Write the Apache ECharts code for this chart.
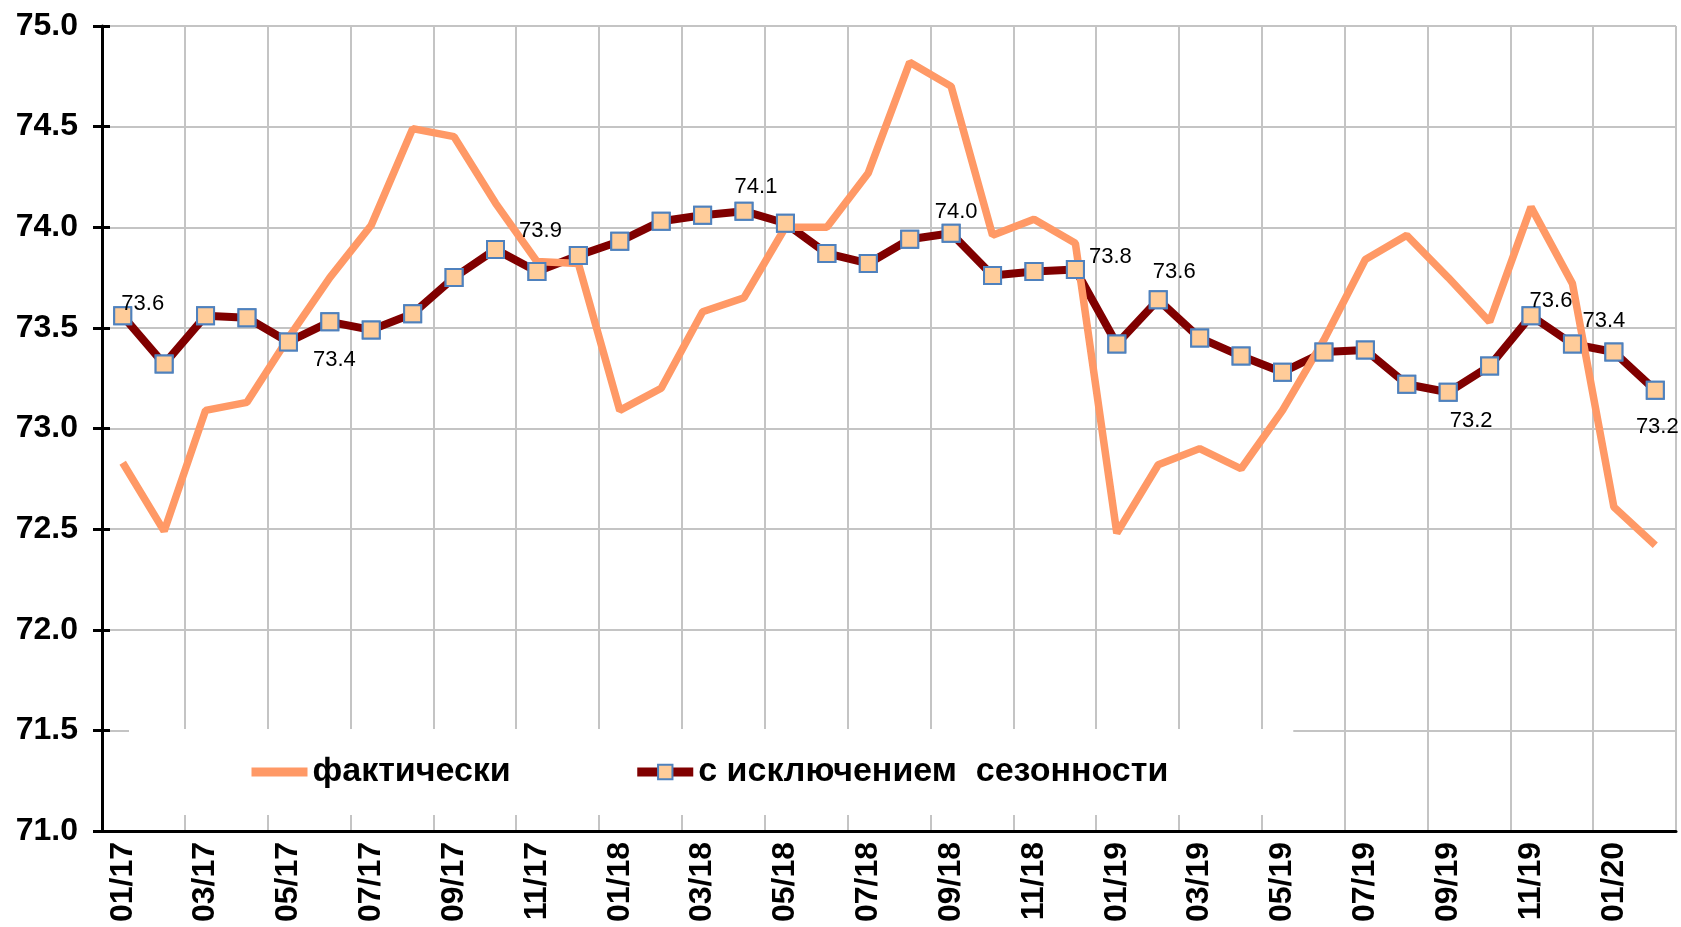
<!DOCTYPE html>
<html>
<head>
<meta charset="utf-8">
<script src="https://cdn.jsdelivr.net/npm/echarts@6/dist/echarts.min.js"></script>
<style>
  html, body { margin: 0; padding: 0; background: #ffffff; }
  #chart { width: 1681px; height: 927px; }
</style>
</head>
<body>
<div id="chart"></div>
<script>
const months = [
    "01/17", "02/17", "03/17", "04/17", "05/17", "06/17", "07/17", "08/17", "09/17", "10/17", "11/17", "12/17",
    "01/18", "02/18", "03/18", "04/18", "05/18", "06/18", "07/18", "08/18", "09/18", "10/18", "11/18", "12/18",
    "01/19", "02/19", "03/19", "04/19", "05/19", "06/19", "07/19", "08/19", "09/19", "10/19", "11/19", "12/19",
    "01/20", "02/20"
];
const fakticheski = [
    72.83, 72.49, 73.09, 73.13, 73.45, 73.75, 74.01, 74.49, 74.45, 74.12, 73.83, 73.82,
    73.09, 73.20, 73.58, 73.65, 74.00, 74.00, 74.27, 74.82, 74.70, 73.96, 74.04, 73.92,
    72.48, 72.82, 72.90, 72.80, 73.09, 73.44, 73.84, 73.96, 73.75, 73.53, 74.10, 73.72,
    72.61, 72.42
];
const bezSezonnosti = [
    73.56, 73.32, 73.56, 73.55, 73.43, 73.53, 73.49, 73.57, 73.75, 73.89, 73.78, 73.86,
    73.93, 74.03, 74.06, 74.08, 74.02, 73.87, 73.82, 73.94, 73.97, 73.76, 73.78, 73.79,
    73.42, 73.64, 73.45, 73.36, 73.28, 73.38, 73.39, 73.22, 73.18, 73.31, 73.56, 73.42,
    73.38, 73.19
];
const yTicks = { min: 71, max: 75, step: 0.5 };

const nameFakt = "фактически";
const nameSez = "с исключением  сезонности";

// which points carry a value label, and where the label sits (px from the marker)
const labelOffsets = {
    0: [20, -12], 4: [46, 18], 9: [45, -18], 15: [12, -24], 20: [5, -21], 23: [35, -13],
    25: [16, -28], 32: [23, 29], 34: [20, -15], 36: [-10, -31], 37: [2, 37]
};

const chart = echarts.init(document.getElementById("chart"), null, { renderer: "canvas" });

const markerData = bezSezonnosti.map((v, i) => {
    const off = labelOffsets[i];
    if (!off) return v;
    return {
        value: v,
        label: { show: true, position: "inside", offset: off }
    };
});

const markerStyle = { color: "#FFCC99", borderColor: "#4F81BD", borderWidth: 2 };
const fontFamily = "Liberation Sans, Arial, sans-serif";

chart.setOption({
    backgroundColor: "#ffffff",
    animation: false,
    grid: { left: 102, right: 5, top: 26, bottom: 96, containLabel: false },
    legend: {
        data: [
            { name: nameFakt, itemStyle: { opacity: 0 } },
            { name: nameSez }
        ],
        left: 129,
        top: 729,
        padding: [26, 125, 26, 118],
        backgroundColor: "#ffffff",
        itemGap: 122,
        itemWidth: 56,
        itemHeight: 18,
        textStyle: { fontSize: 34, fontWeight: "bold", color: "#000", fontFamily: fontFamily },
        lineStyle: { width: 9 }
    },
    xAxis: {
        type: "category",
        data: months,
        boundaryGap: true,
        axisLine: { lineStyle: { color: "#000", width: 3 } },
        axisTick: { interval: 1, length: 10, lineStyle: { color: "#000", width: 3 } },
        axisLabel: {
            interval: 1, rotate: 90, margin: 11,
            fontSize: 32, fontWeight: "bold", color: "#000", fontFamily: fontFamily
        },
        splitLine: { show: true, interval: 1, lineStyle: { color: "#c4c4c4", width: 2 } }
    },
    yAxis: [{
        type: "value",
        min: yTicks.min, max: yTicks.max, interval: yTicks.step,
        axisLine: { show: true, lineStyle: { color: "#000", width: 3 } },
        axisTick: { show: true, length: 9, lineStyle: { color: "#000", width: 3 } },
        axisLabel: {
            margin: 24, fontSize: 32, fontWeight: "bold", color: "#000", fontFamily: fontFamily,
            formatter: v => v.toFixed(1)
        },
        splitLine: { show: true, lineStyle: { color: "#c4c4c4", width: 2 } }
    }, {
        type: "value",
        position: "left",
        min: yTicks.min, max: yTicks.max, interval: yTicks.step,
        axisLine: { show: false },
        axisTick: { show: true, inside: true, length: 8, lineStyle: { color: "#000", width: 3 } },
        axisLabel: { show: false },
        splitLine: { show: false }
    }],
    series: [
        {
            // seasonally adjusted line, beneath the orange one
            name: nameSez,
            type: "line",
            data: bezSezonnosti,
            z: 2,
            symbol: "rect",
            symbolSize: 17,
            itemStyle: markerStyle,
            lineStyle: { color: "#800000", width: 8 }
        },
        {
            name: nameFakt,
            type: "line",
            data: fakticheski,
            z: 3,
            symbol: "none",
            itemStyle: { color: "#FF9966" },
            lineStyle: { color: "#FF9966", width: 7.5 }
        },
        {
            // markers and labels drawn above the orange line
            name: nameSez,
            type: "line",
            data: markerData,
            z: 4,
            symbol: "rect",
            symbolSize: 17,
            itemStyle: markerStyle,
            lineStyle: { width: 0, opacity: 0 },
            label: {
                show: false,
                formatter: p => p.value.toFixed(1),
                fontSize: 22, color: "#000", fontFamily: fontFamily
            }
        }
    ]
});
</script>
</body>
</html>
